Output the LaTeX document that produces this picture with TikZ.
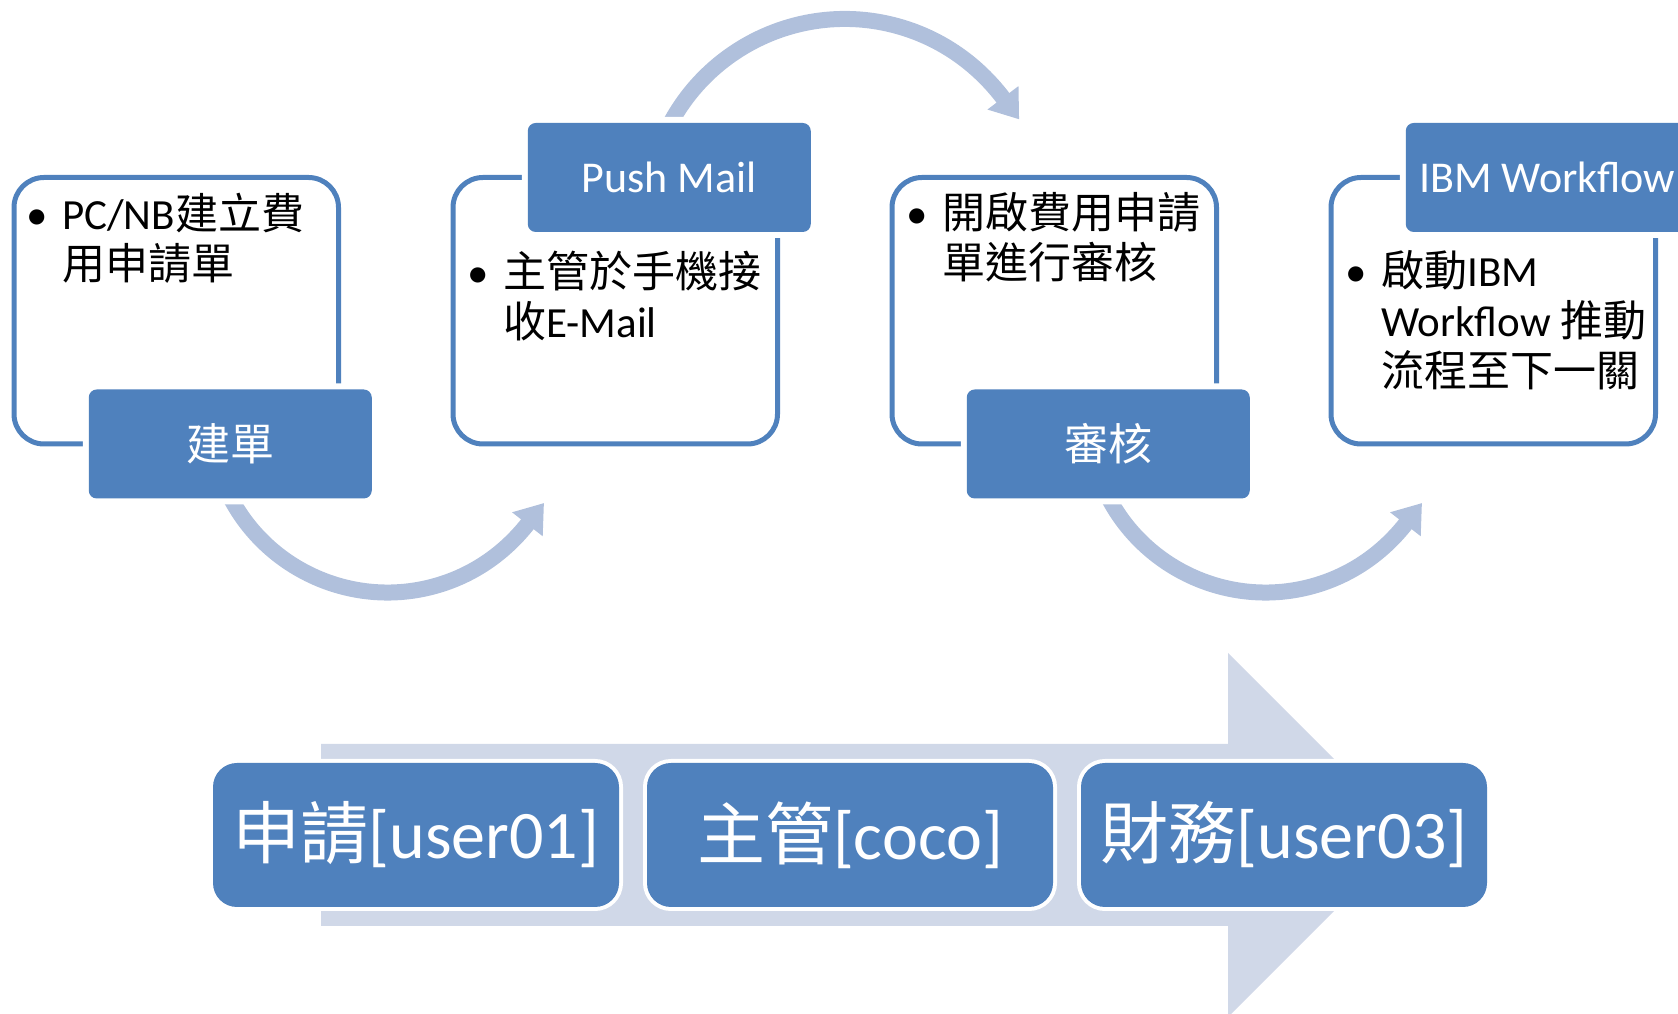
\documentclass[tikz,border=0pt]{standalone}
\usepackage{fontspec}
\setmainfont{Carlito}
\newfontfamily\zhfont{Noto Sans CJK TC}
\usetikzlibrary{arrows.meta}
\usetikzlibrary{positioning}

\definecolor{boxblue}{RGB}{79,129,189}
\definecolor{flowblue}{RGB}{176,192,220}
\definecolor{trackblue}{RGB}{208,216,232}

\tikzset{
  panel/.style={draw=boxblue, line width=5pt, rounded corners=30pt, minimum width=324.5pt, minimum height=266.5pt, inner sep=0pt, outer sep=0pt},
  tag/.style={fill=boxblue, preaction={draw=white, line width=12pt}, rounded corners=8pt, minimum width=283pt, minimum height=109pt, inner sep=0pt, outer sep=0pt, text=white, font=\fontsize{44}{50}\selectfont},
  notes/.style={anchor=north west, inner sep=0pt, align=left, font=\fontsize{43}{50}\selectfont},
  stage/.style={fill=boxblue, preaction={draw=white, line width=8pt}, rounded corners=24pt, minimum width=406pt, minimum height=144pt, inner sep=0pt, outer sep=0pt, text=white, font=\fontsize{68}{80}\selectfont},
  flow/.style={draw=flowblue, line width=16pt, -{Triangle[length=27pt, width=37pt]}, shorten >=-27pt},
}

\begin{document}
\begin{tikzpicture}[x=1pt, y=1pt]
  \useasboundingbox (0,0) rectangle (1678,1014);
  \clip (0,0) rectangle (1678,1014);

  % big arrow behind the roles
  \fill[trackblue] (321,88) -- (1228,88) -- (1228,-3) -- (1410,179) -- (1228,361) -- (1228,270) -- (321,270) -- cycle;

  % circular arrows
  \coordinate (turn1) at (387.5,599);
  \coordinate (turn2) at (844.8,797);
  \coordinate (turn3) at (1265.5,599);
  \draw[flow] (turn1) ++(200:177.5) arc[start angle=200, end angle=322, radius=177.5];
  \draw[flow] (turn2) ++(160:198) arc[start angle=160, end angle=37, radius=198];
  \draw[flow] (turn3) ++(200:177.5) arc[start angle=200, end angle=322, radius=177.5];

  % steps
  \node[panel] (box1) at (176.25,703.25) {};
  \node[panel, right=114.5pt of box1] (box2) {};
  \node[panel, right=114.5pt of box2] (box3) {};
  \node[panel, right=114.5pt of box3] (box4) {};

  \node[tag, xshift=54pt] (tag1) at (box1.south) {{\zhfont 建單}};
  \node[tag, xshift=54pt] (tag2) at (box2.north) {Push Mail};
  \node[tag, xshift=54pt] (tag3) at (box3.south) {{\zhfont 審核}};
  \node[tag, xshift=54pt] (tag4) at (box4.north) {IBM Workflow};

  \node[notes] (note1) at ([xshift=48pt, yshift=-15pt]box1.north west)
    {\llap{\textbullet\hspace{14pt}}PC/NB{\zhfont 建立費}\\{\zhfont 用申請單}};
  \node[notes] (note2) at ([xshift=50pt, yshift=-73pt]box2.north west)
    {\llap{\textbullet\hspace{14pt}}{\zhfont 主管於手機接}\\{\zhfont 收}E-Mail};
  \node[notes] (note3) at ([xshift=50pt, yshift=-15pt]box3.north west)
    {\llap{\textbullet\hspace{14pt}}{\zhfont 開啟費用申請}\\{\zhfont 單進行審核}};
  \node[notes] (note4) at ([xshift=50pt, yshift=-73pt]box4.north west)
    {\llap{\textbullet\hspace{14pt}}{\zhfont 啟動}IBM\\Workflow {\zhfont 推動}\\{\zhfont 流程至下一關}};

  % roles
  \node[stage] (role1) at (416,179) {{\zhfont 申請}[user01]};
  \node[stage, right=28pt of role1] (role2) {{\zhfont 主管}[coco]};
  \node[stage, right=28pt of role2] (role3) {{\zhfont 財務}[user03]};
\end{tikzpicture}
\end{document}
